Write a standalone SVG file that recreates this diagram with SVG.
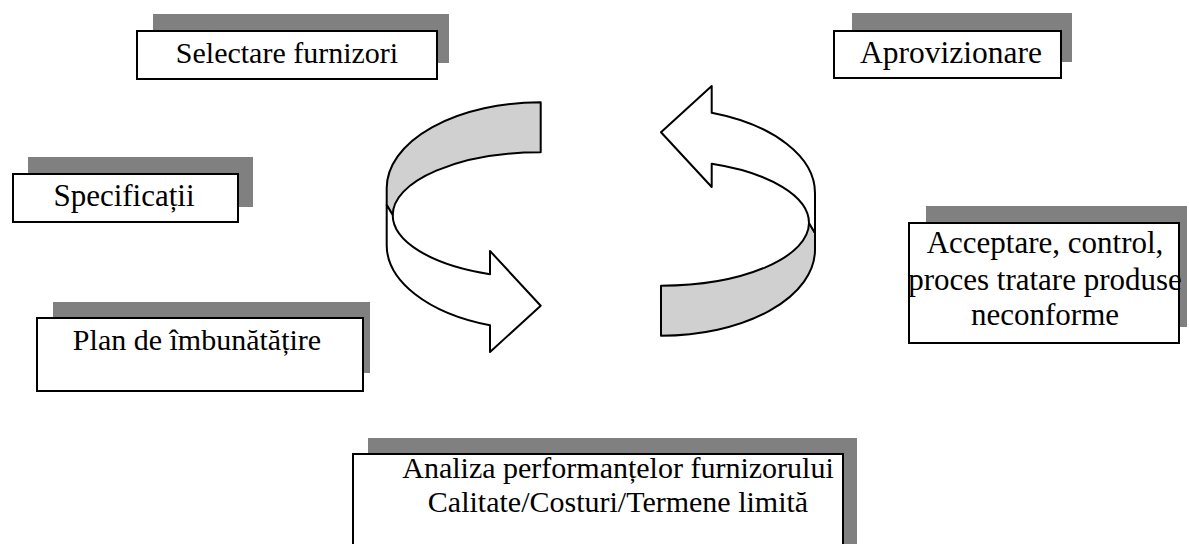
<svg xmlns="http://www.w3.org/2000/svg" width="1189" height="544" viewBox="0 0 1189 544">
<style>
.sh{fill:#808080;stroke:none}
.bx{fill:#fff;stroke:#000;stroke-width:2}
.t{font-family:"Liberation Serif","Times New Roman",serif;font-size:31px;fill:#000;text-anchor:middle}
.s30{font-size:30px}
.g{fill:#d0d0d0;stroke:#000;stroke-width:2;stroke-linejoin:round}
.w{fill:#fff;stroke:#000;stroke-width:2;stroke-linejoin:round}
</style>
<rect width="1189" height="544" fill="#fff"/>
<g id="selectare">
<rect class="sh" x="153" y="14" width="296" height="49"/>
<rect class="bx" x="137" y="31" width="300" height="48"/>
<text class="t s30" x="287" y="63">Selectare furnizori</text>
</g>
<g id="aprovizionare">
<rect class="sh" x="852" y="13" width="220" height="49"/>
<rect class="bx" x="834" y="31" width="227" height="47"/>
<text class="t" x="951" y="63" style="font-size:31.5px">Aprovizionare</text>
</g>
<g id="specificatii">
<rect class="sh" x="28" y="157" width="225" height="50"/>
<rect class="bx" x="13" y="174" width="225" height="48"/>
<text class="t" x="124" y="206">Specificații</text>
</g>
<g id="plan">
<rect class="sh" x="53" y="302" width="317" height="71"/>
<rect class="bx" x="37" y="318" width="326" height="73"/>
<text class="t s30" x="197" y="350">Plan de îmbunătățire</text>
</g>
<g id="acceptare">
<rect class="sh" x="926" y="206" width="261" height="121"/>
<rect class="bx" x="909" y="223" width="270" height="120"/>
<text class="t" x="1045" y="253">Acceptare, control,</text>
<text class="t" x="1045" y="290">proces tratare produse</text>
<text class="t" x="1045" y="325">neconforme</text>
</g>
<g id="analiza">
<rect class="sh" x="368" y="438" width="489" height="120"/>
<rect class="bx" x="353" y="454" width="490" height="110"/>
<text class="t s30" x="618" y="478">Analiza performanțelor furnizorului</text>
<text class="t s30" x="618" y="512">Calitate/Costuri/Termene limită</text>
</g>
<g id="connectors">
<g id="arrow-left">
<path class="g" d="M540.7,102.3 A154,86 0 0,0 386.7,188 L386.7,205 L392.7,215 A148,63 0 0,1 540.7,152.3 Z"/>
<path class="w" d="M392.7,215 A148,63 0 0,0 490,274.2 L490,251 L540.7,305.7 L490,352 L490,325.3 A154,85 0 0,1 386.7,245 L386.7,205 Z"/>
</g>
<g id="arrow-right" transform="rotate(180 600.85 219)">
<path class="g" d="M540.7,102.3 A154,86 0 0,0 386.7,188 L386.7,205 L392.7,215 A148,63 0 0,1 540.7,152.3 Z"/>
<path class="w" d="M392.7,215 A148,63 0 0,0 490,274.2 L490,251 L540.7,305.7 L490,352 L490,325.3 A154,85 0 0,1 386.7,245 L386.7,205 Z"/>
</g>
</g>
</svg>
